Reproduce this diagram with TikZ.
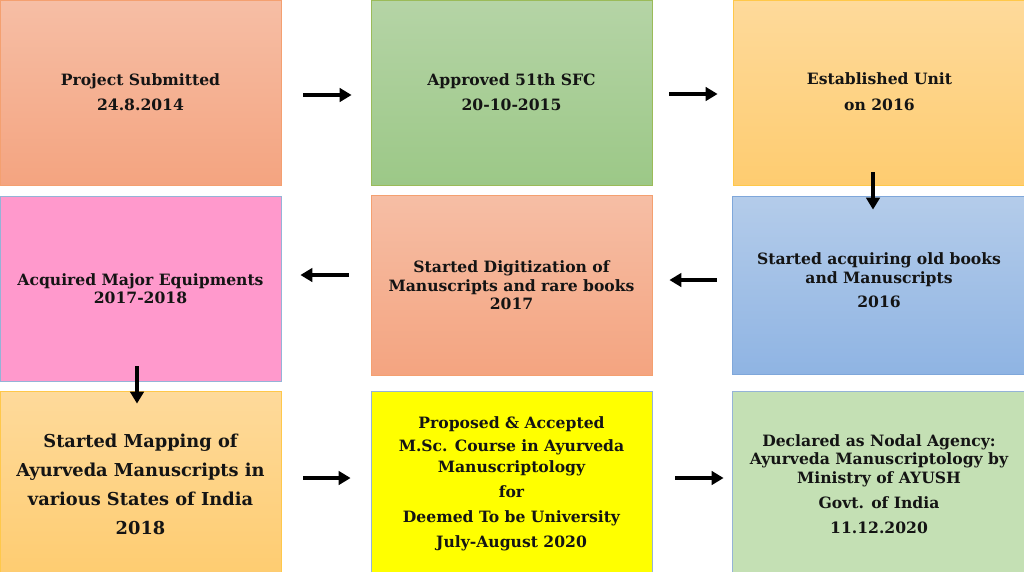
\documentclass[tikz,border=0pt]{standalone}
\usepackage{fontspec}
\setmainfont{DejaVu Serif}[BoldFont={DejaVu Serif Bold}]
\usetikzlibrary{arrows.meta}
\definecolor{salTop}{HTML}{F6BEA5}
\definecolor{salBot}{HTML}{F4A480}
\definecolor{salLine}{HTML}{F4A070}
\definecolor{grnTop}{HTML}{B5D4A6}
\definecolor{grnBot}{HTML}{9CC887}
\definecolor{grnLine}{HTML}{9BBB59}
\definecolor{golTop}{HTML}{FEDA9B}
\definecolor{golBot}{HTML}{FECC70}
\definecolor{golLine}{HTML}{FFC84A}
\definecolor{bluTop}{HTML}{B4CCEA}
\definecolor{bluBot}{HTML}{8FB4E3}
\definecolor{bluLine}{HTML}{7FA7DA}
\definecolor{pinkFill}{HTML}{FF99CC}
\definecolor{lbLine}{HTML}{95B3D7}
\definecolor{ylwFill}{HTML}{FFFF00}
\definecolor{lgFill}{HTML}{C4E0B4}
\definecolor{txt}{HTML}{141414}
\begin{document}
\begin{tikzpicture}[x=1pt,y=-1pt,
  box/.style={draw, line width=0.8pt, inner sep=0pt, align=center, text=txt,
    font=\bfseries\fontsize{15.6}{18.5}\selectfont},
  salmon/.style={box, top color=salTop, bottom color=salBot, draw=salLine},
  green/.style={box, top color=grnTop, bottom color=grnBot, draw=grnLine},
  gold/.style={box, top color=golTop, bottom color=golBot, draw=golLine},
  blue/.style={box, top color=bluTop, bottom color=bluBot, draw=bluLine},
  bigtext/.style={font=\bfseries\fontsize{17.8}{29}\selectfont},
  arr/.style={line width=3.6pt, -{Triangle[length=12pt,width=13.5pt]}}]
\useasboundingbox (0,0) rectangle (1024,571);
\fill[white] (0,0) rectangle (1024,571);
% row 1
\node[salmon, minimum width=281pt, minimum height=185pt] (b1) at (140.5,92.5)
  {Project Submitted\\[6.5pt]24.8.2014};
\node[green, minimum width=281pt, minimum height=185pt] (b2) at (511.5,92.5)
  {Approved 51th SFC\\[6.5pt]20-10-2015};
\node[gold, minimum width=293pt, minimum height=185pt, text depth=2pt] (b3) at (879.5,92.5)
  {Established Unit\\[7pt]on 2016};
% row 2
\node[box, fill=pinkFill, draw=lbLine, minimum width=281pt, minimum height=185pt] (b4) at (140.5,288.5)
  {Acquired Major Equipments\\2017-2018};
\node[salmon, minimum width=281pt, minimum height=180pt] (b5) at (511.5,285.5)
  {Started Digitization of\\Manuscripts and rare books\\2017};
\node[blue, minimum width=294pt, minimum height=178pt, text depth=9pt] (b6) at (879,285)
  {Started acquiring old books\\and Manuscripts\\[6pt]2016};
% row 3
\node[gold, bigtext, minimum width=281pt, minimum height=186pt] (b7) at (140.5,484)
  {Started Mapping of\\Ayurveda Manuscripts in\\various States of India\\2018};
\node[box, fill=ylwFill, draw=lbLine, minimum width=281pt, minimum height=186pt] (b8) at (511.5,484)
  {Proposed \& Accepted\\[5pt]M.Sc. Course in Ayurveda\\[2pt]Manuscriptology\\[7pt]for\\[6.5pt]Deemed To be University\\[6.5pt]July-August 2020};
\node[box, fill=lgFill, draw=lbLine, minimum width=294pt, minimum height=186pt] (b9) at (879,484)
  {Declared as Nodal Agency:\\Ayurveda Manuscriptology by\\Ministry of AYUSH\\[6.5pt]Govt. of India\\[6.5pt]11.12.2020};
% arrows
\draw[arr, shorten <=22pt, shorten >=19pt] ([yshift=-2.5pt]b1.east) -- ([yshift=-2.5pt]b1.east -| b2.west);
\draw[arr, shorten <=17pt, shorten >=15pt] ([yshift=-1.5pt]b2.east) -- ([yshift=-1.5pt]b2.east -| b3.west);
\draw[arr, shorten <=-13pt, shorten >=-14pt] ([xshift=-6.5pt]b3.south) -- ([xshift=-6.5pt]b3.south |- b6.north);
\draw[arr, shorten <=22pt, shorten >=19pt] ([yshift=10.5pt]b5.west) -- ([yshift=10.5pt]b5.west -| b4.east);
\draw[arr, shorten <=15pt, shorten >=17pt] ([yshift=5pt]b6.west) -- ([yshift=5pt]b6.west -| b5.east);
\draw[arr, shorten <=-15pt, shorten >=-13pt] ([xshift=-3.5pt]b4.south) -- ([xshift=-3.5pt]b4.south |- b7.north);
\draw[arr, shorten <=22pt, shorten >=20pt] ([yshift=6pt]b7.east) -- ([yshift=6pt]b7.east -| b8.west);
\draw[arr, shorten <=23pt, shorten >=8pt] ([yshift=6pt]b8.east) -- ([yshift=6pt]b8.east -| b9.west);
\end{tikzpicture}
\end{document}
